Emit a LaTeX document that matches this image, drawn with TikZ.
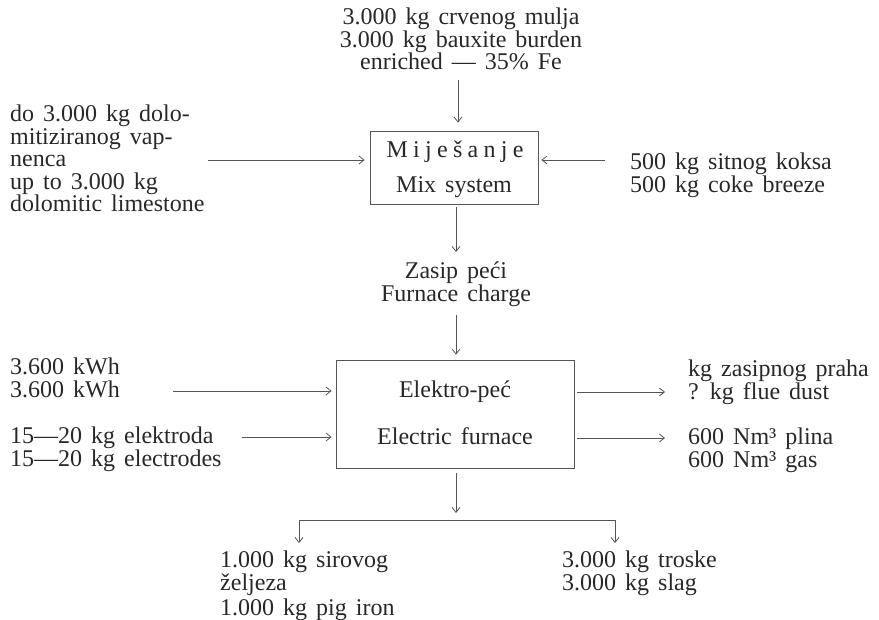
\documentclass[tikz,border=0pt]{standalone}
\usepackage{fontspec}
\setmainfont{Liberation Serif}[WordSpace=1.5]
\usetikzlibrary{arrows.meta}
\definecolor{ink}{RGB}{40,40,40}
\definecolor{ln}{RGB}{85,85,85}
\begin{document}
\begin{tikzpicture}[x=1pt,y=-1pt,
  txt/.style={font=\fontsize{24}{22.5}\selectfont, text=ink, inner sep=0pt, align=left},
  ctxt/.style={txt, align=center},
  box/.style={draw=ln, line width=0.8pt, inner sep=0pt},
  flow/.style={draw=ln, line width=0.8pt, -{Straight Barb[length=5pt,width=8pt]}},
  plain/.style={draw=ln, line width=0.8pt}]
\useasboundingbox (0,0) rectangle (879,620);

% mixing stage
\node[ctxt, anchor=north] (feed) at (461,8) {3.000 kg crvenog mulja\\3.000 kg bauxite burden\\enriched — 35\% Fe};
\node[box, minimum width=168pt, minimum height=73pt] (mix) at (454,167.5) {};
\node[ctxt, anchor=base] (mixa) at (455,158) {\addfontfeatures{LetterSpace=22}Miješanje};
\node[ctxt, anchor=base] (mixb) at (454,193) {Mix system};
\node[txt, anchor=north west] (dolo) at (10,105) {do 3.000 kg dolo-\\mitiziranog vap-\\nenca\\up to 3.000 kg\\dolomitic limestone};
\node[txt, anchor=north west] (coke) at (630,153) {500 kg sitnog koksa\\500 kg coke breeze};
\coordinate (doloout) at (208,160);
\coordinate (cokeout) at (605,160);

\draw[flow, shorten <=10pt, shorten >=8pt] (feed.south -| 458,0) -- (mix.north -| 458,0);
\draw[flow] (doloout) -- ([xshift=-5pt]mix.west |- doloout);
\draw[flow] (cokeout) -- ([xshift=3pt]mix.east |- cokeout);

% charge
\node[ctxt, anchor=north] (charge) at (456,262) {Zasip peći\\Furnace charge};
\draw[flow, shorten <=3pt, shorten >=10pt] (mix.south -| charge.north) -- (charge.north);

% furnace
\node[box, minimum width=238pt, minimum height=108pt] (furn) at (455,414) {};
\node[ctxt, anchor=base] (furna) at (455,398) {Elektro-peć};
\node[ctxt, anchor=base] (furnb) at (455,445) {Electric furnace};
\draw[flow, shorten <=8pt, shorten >=5pt] (charge.south) -- (furn.north -| charge.south);

\node[txt, anchor=north west] (kwh) at (10,358) {3.600 kWh\\3.600 kWh};
\node[txt, anchor=north west] (elec) at (10,427) {15—20 kg elektroda\\15—20 kg electrodes};
\coordinate (kwhin) at (173,391);
\coordinate (elecin) at (242,437);
\draw[flow, shorten >=4pt] (kwhin) -- (furn.west |- kwhin);
\draw[flow, shorten >=4pt] (elecin) -- (furn.west |- elecin);

\node[txt, anchor=north west] (dust) at (688,360) {kg zasipnog praha\\? kg flue dust};
\node[txt, anchor=north west] (gas) at (688,428) {600 Nm³ plina\\600 Nm³ gas};
\coordinate (dustout) at (665,392);
\coordinate (gasout) at (665,438);
\draw[flow, shorten <=3pt] (furn.east |- dustout) -- (dustout);
\draw[flow, shorten <=3pt] (furn.east |- gasout) -- (gasout);

% products
\coordinate (split) at (456,520);
\coordinate (splitL) at (299,520);
\coordinate (splitR) at (615,520);
\draw[flow, shorten <=5pt, shorten >=7pt] (furn.south -| split) -- (split);
\draw[plain] (splitL) -- (splitR);
\node[txt, anchor=north west] (iron) at (220,551) {1.000 kg sirovog\\željeza\\[3pt]1.000 kg pig iron};
\node[txt, anchor=north west] (slag) at (562,551) {3.000 kg troske\\3.000 kg slag};
\draw[flow, shorten >=8pt] (splitL) -- (iron.north -| splitL);
\draw[flow, shorten >=8pt] (splitR) -- (slag.north -| splitR);
\end{tikzpicture}
\end{document}
